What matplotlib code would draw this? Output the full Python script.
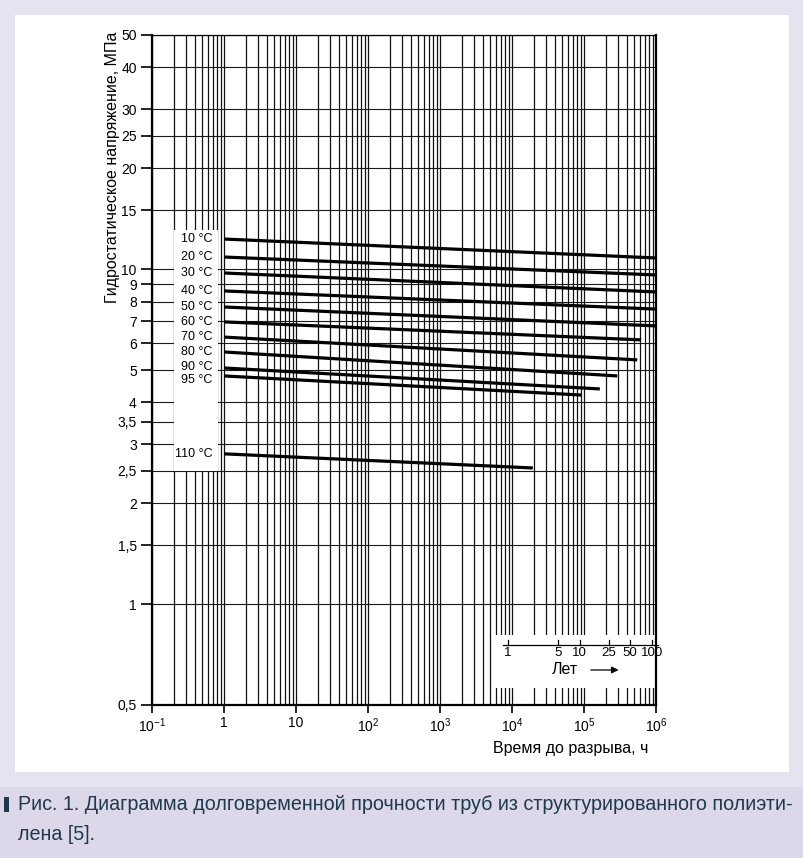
import matplotlib
matplotlib.use("Agg")
import matplotlib.pyplot as plt
from matplotlib.patches import Rectangle

plt.rcParams['font.family'] = ['Liberation Sans', 'DejaVu Sans']
plt.rcParams['mathtext.fontset'] = 'custom'
plt.rcParams['mathtext.rm'] = 'Liberation Sans'
plt.rcParams['mathtext.it'] = 'Liberation Sans'

# temperature curves (time to failure, h / hoop stress, MPa)
temps = ['10 °C', '20 °C', '30 °C', '40 °C', '50 °C', '60 °C',
         '70 °C', '80 °C', '90 °C', '95 °C', '110 °C']
t_start = [1, 1, 1, 1, 1, 1, 1, 1, 1, 1, 1]
t_end = [1e6, 1e6, 1e6, 1e6, 1e6, 6.2e5, 5.5e5, 2.9e5, 1.66e5, 9.1e4, 1.95e4]
s_start = [12.3, 10.87, 9.74, 8.61, 7.71, 6.96, 6.27, 5.66, 5.07, 4.80, 2.81]
s_end = [10.8, 9.61, 8.55, 7.60, 6.77, 6.15, 5.36, 4.80, 4.39, 4.21, 2.55]

y_ticks = [50, 40, 30, 25, 20, 15, 10, 9, 8, 7, 6, 5, 4, 3.5, 3, 2.5, 2, 1.5, 1, 0.5]
y_labels = ['50', '40', '30', '25', '20', '15', '10', '9', '8', '7', '6', '5', '4',
            '3,5', '3', '2,5', '2', '1,5', '1', '0,5']
x_ticks = [1e-1, 1, 10, 1e2, 1e3, 1e4, 1e5, 1e6]
x_labels = ['10$^{-1}$', '1', '10', '10$^2$', '10$^3$', '10$^4$', '10$^5$', '10$^6$']

years = [1, 5, 10, 25, 50, 100]
hours_per_year = 8760

fig = plt.figure(figsize=(8.04, 8.58), dpi=100)
fig.patch.set_facecolor('#e6e3f1')

W, H = 804, 858
# white panel and caption band
fig.patches.append(Rectangle((15 / W, 1 - 772 / H), 774 / W, 757 / H,
                             transform=fig.transFigure, facecolor='white',
                             edgecolor='none', zorder=-2))
fig.patches.append(Rectangle((0, 0), 1, 1 - 787 / H, transform=fig.transFigure,
                             facecolor='#dcd8ea', edgecolor='none', zorder=-2))
fig.patches.append(Rectangle((4 / W, 1 - 812 / H), 5 / W, 15 / H,
                             transform=fig.transFigure, facecolor='#1d3a4c',
                             edgecolor='none', zorder=-1))

ax = fig.add_axes([152 / W, 1 - 705 / H, 504 / W, 670 / H])
ax.set_zorder(2)
ax.set_facecolor('white')
ax.set_xscale('log')
ax.set_yscale('log')
ax.set_xlim(1e-1, 1e6)
ax.set_ylim(0.5, 50)

ax.set_yticks(y_ticks)
ax.set_yticklabels(y_labels, fontsize=10)
ax.yaxis.set_minor_locator(matplotlib.ticker.NullLocator())
ax.set_xticks(x_ticks)
ax.set_xticklabels(x_labels, fontsize=10)
ax.xaxis.set_minor_locator(matplotlib.ticker.LogLocator(base=10, subs=range(2, 10)))
ax.xaxis.set_minor_formatter(matplotlib.ticker.NullFormatter())
ax.tick_params(axis='y', direction='out', length=8, width=1.2, pad=3)
ax.tick_params(axis='x', which='major', direction='out', length=6, width=1.2, pad=2)
ax.tick_params(axis='x', which='minor', length=0)

ax.set_axisbelow(True)
ax.grid(True, which='both', axis='x', color='#111111', lw=0.9)
ax.grid(True, which='major', axis='y', color='#1a1a1a', lw=0.8)
for sp in ax.spines.values():
    sp.set_linewidth(1.6)
ax.spines['top'].set_linewidth(0.9)

# white box behind temperature labels
ax.add_patch(Rectangle((0.205, 2.5), 0.82 - 0.205, 13.1 - 2.5, facecolor='white',
                       edgecolor='none', zorder=1))
# white box for the years scale
ax.add_patch(Rectangle((5450, 0.562), 1e6 - 5450, 0.809 - 0.562, facecolor='white',
                       edgecolor='none', zorder=1))

# small vertical nudges (points) so the 90/95 labels do not collide
label_nudge = [0, 0, 0, 0, 0, 0, 0, 0, 1, -3, 0]
for name, t0, t1, s0, s1, dy in zip(temps, t_start, t_end, s_start, s_end, label_nudge):
    ax.plot([t0, t1], [s0, s1], color='black', lw=2.3, solid_capstyle='butt', zorder=3)
    ax.annotate(name, xy=(0.70, s0), xytext=(0, dy), textcoords='offset points',
                ha='right', va='center', fontsize=9, zorder=4)

# years scale
yr_hours = [y * hours_per_year for y in years]
ax.plot([7600, 1.06e6], [0.755, 0.755], color='black', lw=0.9, zorder=3, clip_on=False)
for h, y in zip(yr_hours, years):
    ax.plot([h, h], [0.755, 0.78], color='black', lw=0.9, zorder=3)
    ax.text(h, 0.716, str(y), ha='center', va='center', fontsize=9.5, zorder=4)
ax.text(5.4e4, 0.636, 'Лет', ha='center', va='center', fontsize=11.5, zorder=4)
ax.annotate('', xy=(3.3e5, 0.636), xytext=(1.14e5, 0.636),
            arrowprops=dict(arrowstyle='-|>', color='black', lw=0.9,
                            mutation_scale=10), zorder=4)

fig.text(113 / W, 1 - 167 / H, 'Гидростатическое напряжение, МПа', rotation=90,
         ha='center', va='center', fontsize=11.5)
fig.text(648 / W, 1 - 748 / H, 'Время до разрыва, ч', ha='right', va='center',
         fontsize=11.5)

fig.text(18 / W, 1 - 805 / H,
         'Рис. 1. Диаграмма долговременной прочности труб из структурированного полиэти-',
         ha='left', va='center', fontsize=14.2, color='#1d3a4c')
fig.text(18 / W, 1 - 835 / H, 'лена [5].', ha='left', va='center', fontsize=14.2,
         color='#1d3a4c')

fig.savefig('out.png', dpi=100, facecolor=fig.get_facecolor())
